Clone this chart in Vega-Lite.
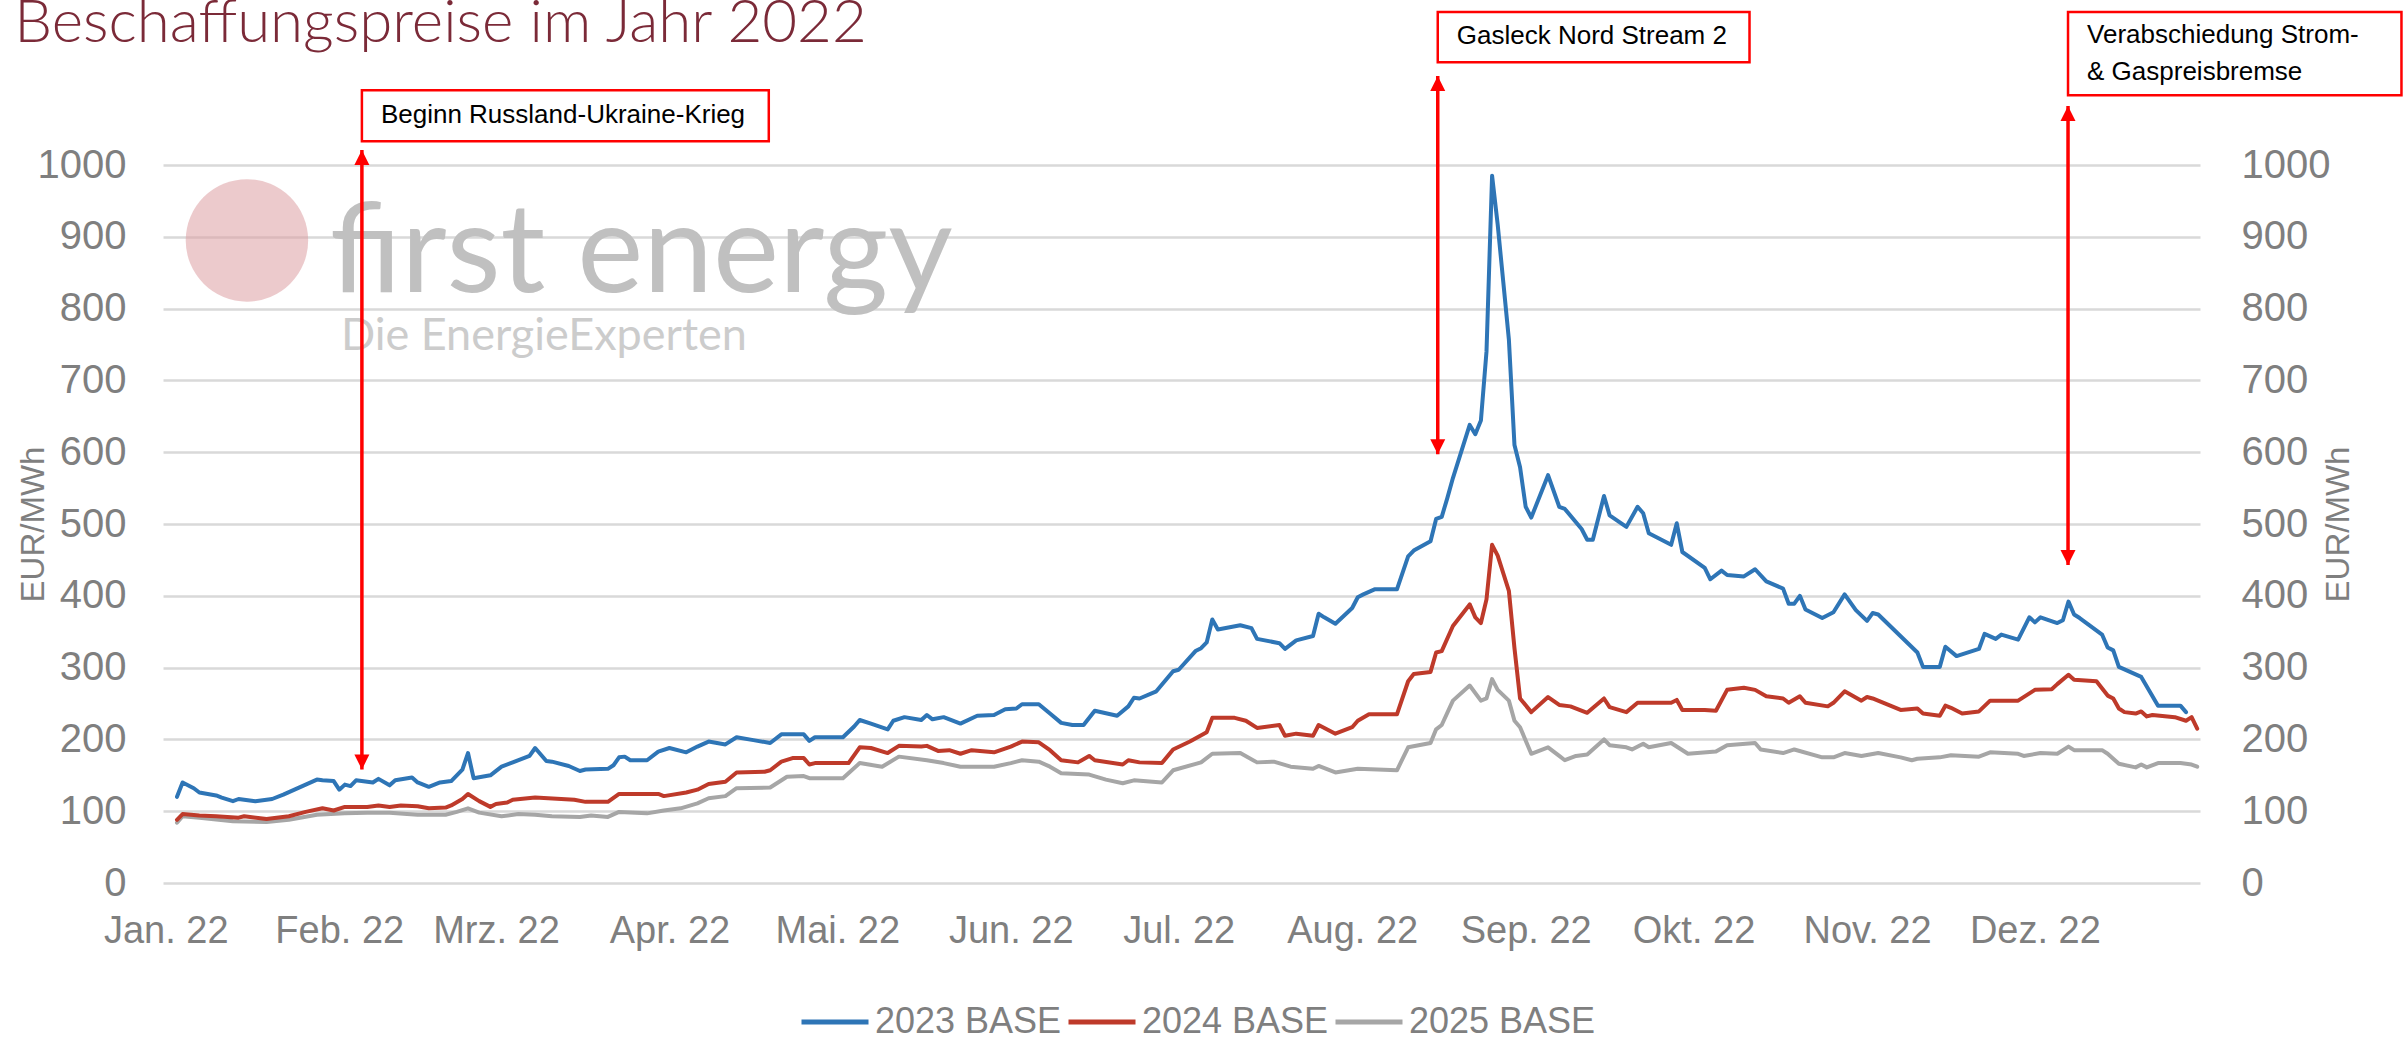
{
  "$schema": "https://vega.github.io/schema/vega-lite/v6.json",
  "width": 2037,
  "height": 718,
  "autosize": {"type": "none"},
  "padding": {"left": 163, "top": 165, "right": 207, "bottom": 156},
  "background": "white",
  "config": {
    "view": {"stroke": null},
    "font": "Liberation Sans",
    "locale": {
      "time": {
        "dateTime": "%A, %e. %B %Y, %X",
        "date": "%d.%m.%Y",
        "time": "%H:%M:%S",
        "periods": ["AM", "PM"],
        "days": ["Sonntag", "Montag", "Dienstag", "Mittwoch", "Donnerstag", "Freitag", "Samstag"],
        "shortDays": ["So", "Mo", "Di", "Mi", "Do", "Fr", "Sa"],
        "months": ["Januar", "Februar", "März", "April", "Mai", "Juni", "Juli", "August", "September", "Oktober", "November", "Dezember"],
        "shortMonths": ["Jan.", "Feb.", "Mrz.", "Apr.", "Mai.", "Jun.", "Jul.", "Aug.", "Sep.", "Okt.", "Nov.", "Dez."]
      }
    }
  },
  "datasets": {
    "prices": [
      {"date":"2022-01-03","series":"2025 BASE","price":84},{"date":"2022-01-04","series":"2025 BASE","price":93},{"date":"2022-01-07","series":"2025 BASE","price":91},{"date":"2022-01-13","series":"2025 BASE","price":86},{"date":"2022-01-19","series":"2025 BASE","price":85},{"date":"2022-01-23","series":"2025 BASE","price":88},{"date":"2022-01-28","series":"2025 BASE","price":95},{"date":"2022-02-02","series":"2025 BASE","price":97},{"date":"2022-02-06","series":"2025 BASE","price":98},{"date":"2022-02-10","series":"2025 BASE","price":98},{"date":"2022-02-15","series":"2025 BASE","price":95},{"date":"2022-02-20","series":"2025 BASE","price":95},{"date":"2022-02-22","series":"2025 BASE","price":99},{"date":"2022-02-24","series":"2025 BASE","price":104},{"date":"2022-02-26","series":"2025 BASE","price":98},{"date":"2022-03-02","series":"2025 BASE","price":93},{"date":"2022-03-05","series":"2025 BASE","price":96},{"date":"2022-03-08","series":"2025 BASE","price":95},{"date":"2022-03-11","series":"2025 BASE","price":93},{"date":"2022-03-16","series":"2025 BASE","price":92},{"date":"2022-03-18","series":"2025 BASE","price":94},{"date":"2022-03-21","series":"2025 BASE","price":92},{"date":"2022-03-23","series":"2025 BASE","price":99},{"date":"2022-03-28","series":"2025 BASE","price":97},{"date":"2022-03-31","series":"2025 BASE","price":101},{"date":"2022-04-03","series":"2025 BASE","price":104},{"date":"2022-04-06","series":"2025 BASE","price":111},{"date":"2022-04-08","series":"2025 BASE","price":118},{"date":"2022-04-11","series":"2025 BASE","price":121},{"date":"2022-04-13","series":"2025 BASE","price":132},{"date":"2022-04-19","series":"2025 BASE","price":133},{"date":"2022-04-22","series":"2025 BASE","price":148},{"date":"2022-04-25","series":"2025 BASE","price":149},{"date":"2022-04-26","series":"2025 BASE","price":146},{"date":"2022-05-02","series":"2025 BASE","price":146},{"date":"2022-05-05","series":"2025 BASE","price":167},{"date":"2022-05-09","series":"2025 BASE","price":162},{"date":"2022-05-12","series":"2025 BASE","price":176},{"date":"2022-05-17","series":"2025 BASE","price":171},{"date":"2022-05-20","series":"2025 BASE","price":167},{"date":"2022-05-23","series":"2025 BASE","price":162},{"date":"2022-05-29","series":"2025 BASE","price":162},{"date":"2022-06-01","series":"2025 BASE","price":167},{"date":"2022-06-03","series":"2025 BASE","price":171},{"date":"2022-06-06","series":"2025 BASE","price":169},{"date":"2022-06-08","series":"2025 BASE","price":162},{"date":"2022-06-10","series":"2025 BASE","price":153},{"date":"2022-06-15","series":"2025 BASE","price":151},{"date":"2022-06-18","series":"2025 BASE","price":144},{"date":"2022-06-21","series":"2025 BASE","price":139},{"date":"2022-06-23","series":"2025 BASE","price":143},{"date":"2022-06-28","series":"2025 BASE","price":140},{"date":"2022-06-30","series":"2025 BASE","price":157},{"date":"2022-07-05","series":"2025 BASE","price":168},{"date":"2022-07-07","series":"2025 BASE","price":180},{"date":"2022-07-12","series":"2025 BASE","price":181},{"date":"2022-07-15","series":"2025 BASE","price":168},{"date":"2022-07-18","series":"2025 BASE","price":169},{"date":"2022-07-21","series":"2025 BASE","price":162},{"date":"2022-07-25","series":"2025 BASE","price":159},{"date":"2022-07-26","series":"2025 BASE","price":163},{"date":"2022-07-29","series":"2025 BASE","price":154},{"date":"2022-08-02","series":"2025 BASE","price":159},{"date":"2022-08-09","series":"2025 BASE","price":157},{"date":"2022-08-11","series":"2025 BASE","price":189},{"date":"2022-08-15","series":"2025 BASE","price":195},{"date":"2022-08-16","series":"2025 BASE","price":214},{"date":"2022-08-17","series":"2025 BASE","price":220},{"date":"2022-08-19","series":"2025 BASE","price":254},{"date":"2022-08-22","series":"2025 BASE","price":275},{"date":"2022-08-24","series":"2025 BASE","price":254},{"date":"2022-08-25","series":"2025 BASE","price":257},{"date":"2022-08-26","series":"2025 BASE","price":284},{"date":"2022-08-27","series":"2025 BASE","price":269},{"date":"2022-08-29","series":"2025 BASE","price":254},{"date":"2022-08-30","series":"2025 BASE","price":226},{"date":"2022-08-31","series":"2025 BASE","price":217},{"date":"2022-09-02","series":"2025 BASE","price":180},{"date":"2022-09-05","series":"2025 BASE","price":189},{"date":"2022-09-07","series":"2025 BASE","price":177},{"date":"2022-09-08","series":"2025 BASE","price":171},{"date":"2022-09-10","series":"2025 BASE","price":177},{"date":"2022-09-12","series":"2025 BASE","price":179},{"date":"2022-09-15","series":"2025 BASE","price":200},{"date":"2022-09-16","series":"2025 BASE","price":192},{"date":"2022-09-19","series":"2025 BASE","price":189},{"date":"2022-09-20","series":"2025 BASE","price":186},{"date":"2022-09-22","series":"2025 BASE","price":194},{"date":"2022-09-23","series":"2025 BASE","price":189},{"date":"2022-09-27","series":"2025 BASE","price":195},{"date":"2022-09-30","series":"2025 BASE","price":180},{"date":"2022-10-05","series":"2025 BASE","price":183},{"date":"2022-10-07","series":"2025 BASE","price":192},{"date":"2022-10-12","series":"2025 BASE","price":195},{"date":"2022-10-13","series":"2025 BASE","price":186},{"date":"2022-10-17","series":"2025 BASE","price":181},{"date":"2022-10-19","series":"2025 BASE","price":186},{"date":"2022-10-24","series":"2025 BASE","price":175},{"date":"2022-10-26","series":"2025 BASE","price":175},{"date":"2022-10-28","series":"2025 BASE","price":181},{"date":"2022-10-31","series":"2025 BASE","price":177},{"date":"2022-11-03","series":"2025 BASE","price":181},{"date":"2022-11-07","series":"2025 BASE","price":175},{"date":"2022-11-09","series":"2025 BASE","price":171},{"date":"2022-11-10","series":"2025 BASE","price":173},{"date":"2022-11-14","series":"2025 BASE","price":175},{"date":"2022-11-16","series":"2025 BASE","price":178},{"date":"2022-11-21","series":"2025 BASE","price":176},{"date":"2022-11-23","series":"2025 BASE","price":182},{"date":"2022-11-28","series":"2025 BASE","price":180},{"date":"2022-11-29","series":"2025 BASE","price":177},{"date":"2022-12-02","series":"2025 BASE","price":181},{"date":"2022-12-05","series":"2025 BASE","price":180},{"date":"2022-12-07","series":"2025 BASE","price":190},{"date":"2022-12-08","series":"2025 BASE","price":185},{"date":"2022-12-13","series":"2025 BASE","price":185},{"date":"2022-12-14","series":"2025 BASE","price":180},{"date":"2022-12-16","series":"2025 BASE","price":166},{"date":"2022-12-19","series":"2025 BASE","price":161},{"date":"2022-12-20","series":"2025 BASE","price":165},{"date":"2022-12-21","series":"2025 BASE","price":161},{"date":"2022-12-23","series":"2025 BASE","price":167},{"date":"2022-12-27","series":"2025 BASE","price":167},{"date":"2022-12-29","series":"2025 BASE","price":165},{"date":"2022-12-30","series":"2025 BASE","price":162},
      {"date":"2022-01-03","series":"2024 BASE","price":88},{"date":"2022-01-04","series":"2024 BASE","price":96},{"date":"2022-01-07","series":"2024 BASE","price":94},{"date":"2022-01-10","series":"2024 BASE","price":93},{"date":"2022-01-14","series":"2024 BASE","price":91},{"date":"2022-01-15","series":"2024 BASE","price":93},{"date":"2022-01-19","series":"2024 BASE","price":89},{"date":"2022-01-23","series":"2024 BASE","price":93},{"date":"2022-01-26","series":"2024 BASE","price":99},{"date":"2022-01-29","series":"2024 BASE","price":104},{"date":"2022-01-31","series":"2024 BASE","price":101},{"date":"2022-02-02","series":"2024 BASE","price":106},{"date":"2022-02-06","series":"2024 BASE","price":106},{"date":"2022-02-08","series":"2024 BASE","price":108},{"date":"2022-02-10","series":"2024 BASE","price":106},{"date":"2022-02-12","series":"2024 BASE","price":108},{"date":"2022-02-15","series":"2024 BASE","price":107},{"date":"2022-02-17","series":"2024 BASE","price":104},{"date":"2022-02-20","series":"2024 BASE","price":105},{"date":"2022-02-21","series":"2024 BASE","price":108},{"date":"2022-02-23","series":"2024 BASE","price":117},{"date":"2022-02-24","series":"2024 BASE","price":124},{"date":"2022-02-26","series":"2024 BASE","price":114},{"date":"2022-02-28","series":"2024 BASE","price":106},{"date":"2022-03-01","series":"2024 BASE","price":110},{"date":"2022-03-03","series":"2024 BASE","price":112},{"date":"2022-03-04","series":"2024 BASE","price":116},{"date":"2022-03-08","series":"2024 BASE","price":119},{"date":"2022-03-15","series":"2024 BASE","price":116},{"date":"2022-03-17","series":"2024 BASE","price":113},{"date":"2022-03-21","series":"2024 BASE","price":113},{"date":"2022-03-23","series":"2024 BASE","price":124},{"date":"2022-03-30","series":"2024 BASE","price":124},{"date":"2022-03-31","series":"2024 BASE","price":121},{"date":"2022-04-04","series":"2024 BASE","price":126},{"date":"2022-04-06","series":"2024 BASE","price":130},{"date":"2022-04-08","series":"2024 BASE","price":138},{"date":"2022-04-11","series":"2024 BASE","price":141},{"date":"2022-04-13","series":"2024 BASE","price":154},{"date":"2022-04-18","series":"2024 BASE","price":155},{"date":"2022-04-19","series":"2024 BASE","price":157},{"date":"2022-04-21","series":"2024 BASE","price":169},{"date":"2022-04-23","series":"2024 BASE","price":174},{"date":"2022-04-25","series":"2024 BASE","price":174},{"date":"2022-04-26","series":"2024 BASE","price":165},{"date":"2022-04-27","series":"2024 BASE","price":167},{"date":"2022-05-03","series":"2024 BASE","price":167},{"date":"2022-05-05","series":"2024 BASE","price":189},{"date":"2022-05-07","series":"2024 BASE","price":188},{"date":"2022-05-10","series":"2024 BASE","price":181},{"date":"2022-05-12","series":"2024 BASE","price":191},{"date":"2022-05-16","series":"2024 BASE","price":190},{"date":"2022-05-17","series":"2024 BASE","price":191},{"date":"2022-05-19","series":"2024 BASE","price":184},{"date":"2022-05-21","series":"2024 BASE","price":185},{"date":"2022-05-23","series":"2024 BASE","price":180},{"date":"2022-05-25","series":"2024 BASE","price":185},{"date":"2022-05-29","series":"2024 BASE","price":182},{"date":"2022-06-01","series":"2024 BASE","price":190},{"date":"2022-06-03","series":"2024 BASE","price":197},{"date":"2022-06-06","series":"2024 BASE","price":196},{"date":"2022-06-08","series":"2024 BASE","price":185},{"date":"2022-06-10","series":"2024 BASE","price":171},{"date":"2022-06-13","series":"2024 BASE","price":168},{"date":"2022-06-15","series":"2024 BASE","price":177},{"date":"2022-06-16","series":"2024 BASE","price":171},{"date":"2022-06-21","series":"2024 BASE","price":165},{"date":"2022-06-22","series":"2024 BASE","price":171},{"date":"2022-06-24","series":"2024 BASE","price":168},{"date":"2022-06-28","series":"2024 BASE","price":167},{"date":"2022-06-30","series":"2024 BASE","price":186},{"date":"2022-07-03","series":"2024 BASE","price":197},{"date":"2022-07-06","series":"2024 BASE","price":210},{"date":"2022-07-07","series":"2024 BASE","price":230},{"date":"2022-07-11","series":"2024 BASE","price":230},{"date":"2022-07-13","series":"2024 BASE","price":226},{"date":"2022-07-15","series":"2024 BASE","price":216},{"date":"2022-07-19","series":"2024 BASE","price":220},{"date":"2022-07-20","series":"2024 BASE","price":205},{"date":"2022-07-22","series":"2024 BASE","price":208},{"date":"2022-07-25","series":"2024 BASE","price":205},{"date":"2022-07-26","series":"2024 BASE","price":220},{"date":"2022-07-29","series":"2024 BASE","price":208},{"date":"2022-08-01","series":"2024 BASE","price":217},{"date":"2022-08-02","series":"2024 BASE","price":226},{"date":"2022-08-04","series":"2024 BASE","price":235},{"date":"2022-08-09","series":"2024 BASE","price":235},{"date":"2022-08-11","series":"2024 BASE","price":281},{"date":"2022-08-12","series":"2024 BASE","price":291},{"date":"2022-08-15","series":"2024 BASE","price":294},{"date":"2022-08-16","series":"2024 BASE","price":321},{"date":"2022-08-17","series":"2024 BASE","price":323},{"date":"2022-08-19","series":"2024 BASE","price":358},{"date":"2022-08-22","series":"2024 BASE","price":388},{"date":"2022-08-23","series":"2024 BASE","price":370},{"date":"2022-08-24","series":"2024 BASE","price":362},{"date":"2022-08-25","series":"2024 BASE","price":395},{"date":"2022-08-26","series":"2024 BASE","price":471},{"date":"2022-08-27","series":"2024 BASE","price":456},{"date":"2022-08-29","series":"2024 BASE","price":407},{"date":"2022-08-30","series":"2024 BASE","price":327},{"date":"2022-08-31","series":"2024 BASE","price":257},{"date":"2022-09-02","series":"2024 BASE","price":238},{"date":"2022-09-05","series":"2024 BASE","price":259},{"date":"2022-09-07","series":"2024 BASE","price":248},{"date":"2022-09-09","series":"2024 BASE","price":246},{"date":"2022-09-12","series":"2024 BASE","price":237},{"date":"2022-09-15","series":"2024 BASE","price":257},{"date":"2022-09-16","series":"2024 BASE","price":245},{"date":"2022-09-19","series":"2024 BASE","price":238},{"date":"2022-09-21","series":"2024 BASE","price":251},{"date":"2022-09-27","series":"2024 BASE","price":251},{"date":"2022-09-28","series":"2024 BASE","price":255},{"date":"2022-09-29","series":"2024 BASE","price":241},{"date":"2022-10-03","series":"2024 BASE","price":241},{"date":"2022-10-05","series":"2024 BASE","price":240},{"date":"2022-10-07","series":"2024 BASE","price":269},{"date":"2022-10-10","series":"2024 BASE","price":272},{"date":"2022-10-12","series":"2024 BASE","price":269},{"date":"2022-10-14","series":"2024 BASE","price":260},{"date":"2022-10-17","series":"2024 BASE","price":257},{"date":"2022-10-18","series":"2024 BASE","price":251},{"date":"2022-10-20","series":"2024 BASE","price":260},{"date":"2022-10-21","series":"2024 BASE","price":251},{"date":"2022-10-25","series":"2024 BASE","price":246},{"date":"2022-10-26","series":"2024 BASE","price":251},{"date":"2022-10-28","series":"2024 BASE","price":267},{"date":"2022-10-31","series":"2024 BASE","price":254},{"date":"2022-11-01","series":"2024 BASE","price":259},{"date":"2022-11-02","series":"2024 BASE","price":257},{"date":"2022-11-07","series":"2024 BASE","price":241},{"date":"2022-11-10","series":"2024 BASE","price":243},{"date":"2022-11-11","series":"2024 BASE","price":236},{"date":"2022-11-14","series":"2024 BASE","price":233},{"date":"2022-11-15","series":"2024 BASE","price":247},{"date":"2022-11-16","series":"2024 BASE","price":244},{"date":"2022-11-18","series":"2024 BASE","price":236},{"date":"2022-11-21","series":"2024 BASE","price":239},{"date":"2022-11-23","series":"2024 BASE","price":254},{"date":"2022-11-28","series":"2024 BASE","price":254},{"date":"2022-12-01","series":"2024 BASE","price":269},{"date":"2022-12-04","series":"2024 BASE","price":270},{"date":"2022-12-05","series":"2024 BASE","price":277},{"date":"2022-12-07","series":"2024 BASE","price":290},{"date":"2022-12-08","series":"2024 BASE","price":283},{"date":"2022-12-12","series":"2024 BASE","price":281},{"date":"2022-12-14","series":"2024 BASE","price":261},{"date":"2022-12-15","series":"2024 BASE","price":257},{"date":"2022-12-16","series":"2024 BASE","price":243},{"date":"2022-12-17","series":"2024 BASE","price":238},{"date":"2022-12-19","series":"2024 BASE","price":236},{"date":"2022-12-20","series":"2024 BASE","price":239},{"date":"2022-12-21","series":"2024 BASE","price":232},{"date":"2022-12-22","series":"2024 BASE","price":234},{"date":"2022-12-26","series":"2024 BASE","price":231},{"date":"2022-12-28","series":"2024 BASE","price":226},{"date":"2022-12-29","series":"2024 BASE","price":231},{"date":"2022-12-30","series":"2024 BASE","price":215},
      {"date":"2022-01-03","series":"2023 BASE","price":120},{"date":"2022-01-04","series":"2023 BASE","price":140},{"date":"2022-01-06","series":"2023 BASE","price":132},{"date":"2022-01-07","series":"2023 BASE","price":126},{"date":"2022-01-10","series":"2023 BASE","price":122},{"date":"2022-01-11","series":"2023 BASE","price":119},{"date":"2022-01-13","series":"2023 BASE","price":114},{"date":"2022-01-14","series":"2023 BASE","price":117},{"date":"2022-01-17","series":"2023 BASE","price":114},{"date":"2022-01-20","series":"2023 BASE","price":117},{"date":"2022-01-22","series":"2023 BASE","price":123},{"date":"2022-01-24","series":"2023 BASE","price":130},{"date":"2022-01-26","series":"2023 BASE","price":137},{"date":"2022-01-28","series":"2023 BASE","price":144},{"date":"2022-01-29","series":"2023 BASE","price":143},{"date":"2022-01-31","series":"2023 BASE","price":142},{"date":"2022-02-01","series":"2023 BASE","price":130},{"date":"2022-02-02","series":"2023 BASE","price":137},{"date":"2022-02-03","series":"2023 BASE","price":135},{"date":"2022-02-04","series":"2023 BASE","price":143},{"date":"2022-02-07","series":"2023 BASE","price":140},{"date":"2022-02-08","series":"2023 BASE","price":145},{"date":"2022-02-10","series":"2023 BASE","price":136},{"date":"2022-02-11","series":"2023 BASE","price":143},{"date":"2022-02-14","series":"2023 BASE","price":147},{"date":"2022-02-15","series":"2023 BASE","price":140},{"date":"2022-02-17","series":"2023 BASE","price":134},{"date":"2022-02-19","series":"2023 BASE","price":140},{"date":"2022-02-21","series":"2023 BASE","price":142},{"date":"2022-02-23","series":"2023 BASE","price":158},{"date":"2022-02-24","series":"2023 BASE","price":181},{"date":"2022-02-25","series":"2023 BASE","price":146},{"date":"2022-02-28","series":"2023 BASE","price":150},{"date":"2022-03-02","series":"2023 BASE","price":162},{"date":"2022-03-04","series":"2023 BASE","price":168},{"date":"2022-03-07","series":"2023 BASE","price":177},{"date":"2022-03-08","series":"2023 BASE","price":188},{"date":"2022-03-10","series":"2023 BASE","price":170},{"date":"2022-03-11","series":"2023 BASE","price":169},{"date":"2022-03-14","series":"2023 BASE","price":163},{"date":"2022-03-16","series":"2023 BASE","price":156},{"date":"2022-03-17","series":"2023 BASE","price":158},{"date":"2022-03-21","series":"2023 BASE","price":159},{"date":"2022-03-22","series":"2023 BASE","price":164},{"date":"2022-03-23","series":"2023 BASE","price":175},{"date":"2022-03-24","series":"2023 BASE","price":176},{"date":"2022-03-25","series":"2023 BASE","price":171},{"date":"2022-03-28","series":"2023 BASE","price":171},{"date":"2022-03-30","series":"2023 BASE","price":183},{"date":"2022-04-01","series":"2023 BASE","price":188},{"date":"2022-04-04","series":"2023 BASE","price":182},{"date":"2022-04-06","series":"2023 BASE","price":190},{"date":"2022-04-08","series":"2023 BASE","price":197},{"date":"2022-04-11","series":"2023 BASE","price":193},{"date":"2022-04-13","series":"2023 BASE","price":203},{"date":"2022-04-16","series":"2023 BASE","price":199},{"date":"2022-04-19","series":"2023 BASE","price":195},{"date":"2022-04-21","series":"2023 BASE","price":207},{"date":"2022-04-25","series":"2023 BASE","price":207},{"date":"2022-04-26","series":"2023 BASE","price":198},{"date":"2022-04-27","series":"2023 BASE","price":203},{"date":"2022-05-02","series":"2023 BASE","price":203},{"date":"2022-05-04","series":"2023 BASE","price":218},{"date":"2022-05-05","series":"2023 BASE","price":227},{"date":"2022-05-07","series":"2023 BASE","price":222},{"date":"2022-05-10","series":"2023 BASE","price":214},{"date":"2022-05-11","series":"2023 BASE","price":226},{"date":"2022-05-13","series":"2023 BASE","price":231},{"date":"2022-05-16","series":"2023 BASE","price":227},{"date":"2022-05-17","series":"2023 BASE","price":234},{"date":"2022-05-18","series":"2023 BASE","price":228},{"date":"2022-05-20","series":"2023 BASE","price":231},{"date":"2022-05-23","series":"2023 BASE","price":222},{"date":"2022-05-26","series":"2023 BASE","price":233},{"date":"2022-05-29","series":"2023 BASE","price":234},{"date":"2022-05-31","series":"2023 BASE","price":242},{"date":"2022-06-02","series":"2023 BASE","price":243},{"date":"2022-06-03","series":"2023 BASE","price":249},{"date":"2022-06-06","series":"2023 BASE","price":249},{"date":"2022-06-08","series":"2023 BASE","price":236},{"date":"2022-06-10","series":"2023 BASE","price":223},{"date":"2022-06-12","series":"2023 BASE","price":220},{"date":"2022-06-14","series":"2023 BASE","price":220},{"date":"2022-06-16","series":"2023 BASE","price":240},{"date":"2022-06-20","series":"2023 BASE","price":233},{"date":"2022-06-22","series":"2023 BASE","price":246},{"date":"2022-06-23","series":"2023 BASE","price":258},{"date":"2022-06-24","series":"2023 BASE","price":257},{"date":"2022-06-27","series":"2023 BASE","price":267},{"date":"2022-06-30","series":"2023 BASE","price":295},{"date":"2022-07-01","series":"2023 BASE","price":297},{"date":"2022-07-04","series":"2023 BASE","price":323},{"date":"2022-07-05","series":"2023 BASE","price":327},{"date":"2022-07-06","series":"2023 BASE","price":335},{"date":"2022-07-07","series":"2023 BASE","price":367},{"date":"2022-07-08","series":"2023 BASE","price":353},{"date":"2022-07-12","series":"2023 BASE","price":359},{"date":"2022-07-14","series":"2023 BASE","price":355},{"date":"2022-07-15","series":"2023 BASE","price":340},{"date":"2022-07-19","series":"2023 BASE","price":334},{"date":"2022-07-20","series":"2023 BASE","price":326},{"date":"2022-07-22","series":"2023 BASE","price":338},{"date":"2022-07-25","series":"2023 BASE","price":344},{"date":"2022-07-26","series":"2023 BASE","price":375},{"date":"2022-07-27","series":"2023 BASE","price":370},{"date":"2022-07-29","series":"2023 BASE","price":361},{"date":"2022-08-01","series":"2023 BASE","price":383},{"date":"2022-08-02","series":"2023 BASE","price":398},{"date":"2022-08-03","series":"2023 BASE","price":402},{"date":"2022-08-05","series":"2023 BASE","price":409},{"date":"2022-08-09","series":"2023 BASE","price":409},{"date":"2022-08-11","series":"2023 BASE","price":455},{"date":"2022-08-12","series":"2023 BASE","price":463},{"date":"2022-08-15","series":"2023 BASE","price":476},{"date":"2022-08-16","series":"2023 BASE","price":507},{"date":"2022-08-17","series":"2023 BASE","price":510},{"date":"2022-08-18","series":"2023 BASE","price":536},{"date":"2022-08-19","series":"2023 BASE","price":564},{"date":"2022-08-22","series":"2023 BASE","price":638},{"date":"2022-08-23","series":"2023 BASE","price":625},{"date":"2022-08-24","series":"2023 BASE","price":644},{"date":"2022-08-25","series":"2023 BASE","price":740},{"date":"2022-08-26","series":"2023 BASE","price":985},{"date":"2022-08-27","series":"2023 BASE","price":917},{"date":"2022-08-28","series":"2023 BASE","price":837},{"date":"2022-08-29","series":"2023 BASE","price":757},{"date":"2022-08-30","series":"2023 BASE","price":610},{"date":"2022-08-31","series":"2023 BASE","price":579},{"date":"2022-09-01","series":"2023 BASE","price":524},{"date":"2022-09-02","series":"2023 BASE","price":509},{"date":"2022-09-05","series":"2023 BASE","price":568},{"date":"2022-09-07","series":"2023 BASE","price":524},{"date":"2022-09-08","series":"2023 BASE","price":521},{"date":"2022-09-11","series":"2023 BASE","price":493},{"date":"2022-09-12","series":"2023 BASE","price":478},{"date":"2022-09-13","series":"2023 BASE","price":478},{"date":"2022-09-15","series":"2023 BASE","price":539},{"date":"2022-09-16","series":"2023 BASE","price":512},{"date":"2022-09-19","series":"2023 BASE","price":496},{"date":"2022-09-21","series":"2023 BASE","price":524},{"date":"2022-09-22","series":"2023 BASE","price":515},{"date":"2022-09-23","series":"2023 BASE","price":487},{"date":"2022-09-27","series":"2023 BASE","price":471},{"date":"2022-09-28","series":"2023 BASE","price":501},{"date":"2022-09-29","series":"2023 BASE","price":461},{"date":"2022-10-03","series":"2023 BASE","price":439},{"date":"2022-10-04","series":"2023 BASE","price":423},{"date":"2022-10-06","series":"2023 BASE","price":435},{"date":"2022-10-07","series":"2023 BASE","price":429},{"date":"2022-10-10","series":"2023 BASE","price":427},{"date":"2022-10-12","series":"2023 BASE","price":437},{"date":"2022-10-14","series":"2023 BASE","price":420},{"date":"2022-10-17","series":"2023 BASE","price":410},{"date":"2022-10-18","series":"2023 BASE","price":389},{"date":"2022-10-19","series":"2023 BASE","price":389},{"date":"2022-10-20","series":"2023 BASE","price":400},{"date":"2022-10-21","series":"2023 BASE","price":381},{"date":"2022-10-24","series":"2023 BASE","price":369},{"date":"2022-10-26","series":"2023 BASE","price":377},{"date":"2022-10-28","series":"2023 BASE","price":402},{"date":"2022-10-30","series":"2023 BASE","price":380},{"date":"2022-11-01","series":"2023 BASE","price":365},{"date":"2022-11-02","series":"2023 BASE","price":376},{"date":"2022-11-03","series":"2023 BASE","price":374},{"date":"2022-11-10","series":"2023 BASE","price":321},{"date":"2022-11-11","series":"2023 BASE","price":301},{"date":"2022-11-14","series":"2023 BASE","price":301},{"date":"2022-11-15","series":"2023 BASE","price":329},{"date":"2022-11-17","series":"2023 BASE","price":316},{"date":"2022-11-21","series":"2023 BASE","price":326},{"date":"2022-11-22","series":"2023 BASE","price":347},{"date":"2022-11-24","series":"2023 BASE","price":340},{"date":"2022-11-25","series":"2023 BASE","price":346},{"date":"2022-11-28","series":"2023 BASE","price":339},{"date":"2022-11-30","series":"2023 BASE","price":370},{"date":"2022-12-01","series":"2023 BASE","price":363},{"date":"2022-12-02","series":"2023 BASE","price":370},{"date":"2022-12-05","series":"2023 BASE","price":362},{"date":"2022-12-06","series":"2023 BASE","price":366},{"date":"2022-12-07","series":"2023 BASE","price":392},{"date":"2022-12-08","series":"2023 BASE","price":374},{"date":"2022-12-09","series":"2023 BASE","price":369},{"date":"2022-12-13","series":"2023 BASE","price":346},{"date":"2022-12-14","series":"2023 BASE","price":328},{"date":"2022-12-15","series":"2023 BASE","price":324},{"date":"2022-12-16","series":"2023 BASE","price":301},{"date":"2022-12-20","series":"2023 BASE","price":287},{"date":"2022-12-23","series":"2023 BASE","price":247},{"date":"2022-12-27","series":"2023 BASE","price":247},{"date":"2022-12-28","series":"2023 BASE","price":238}
    ],
    "events": [
      {"label":"Beginn Russland-Ukraine-Krieg","date":"2022-02-05T01:00:00Z","arrowTop":1021,"arrowBottom":158,"boxEnd":"2022-04-18T18:00:00Z","boxTop":1104,"boxBottom":1033,"labelY":1069},
      {"label":"Gasleck Nord Stream 2","date":"2022-08-16T07:00:00Z","arrowTop":1124,"arrowBottom":597,"boxEnd":"2022-10-11T00:00:00Z","boxTop":1213,"boxBottom":1143,"labelY":1179},
      {"label":"Verabschiedung Strom-\n& Gaspreisbremse","date":"2022-12-06T22:00:00Z","arrowTop":1082,"arrowBottom":443,"boxEnd":"2023-02-04T12:00:00Z","boxTop":1213,"boxBottom":1097,"labelY":1181}
    ]
  },
  "resolve": {"axis": {"x": "independent", "y": "independent"}},
  "layer": [
    {
      "data": {"values": [{}]},
      "mark": {"type": "point", "filled": true, "size": 15000, "color": "#dc9ea3", "opacity": 0.55, "strokeWidth": 0, "clip": false},
      "encoding": {
        "x": {"datum": {"year": 2022, "month": 1, "date": 15, "hours": 12, "utc": true}, "type": "temporal", "scale": {"type": "utc", "domain": [{"year": 2021, "month": 12, "date": 31, "hours": 12, "utc": true}, {"year": 2022, "month": 12, "date": 30, "hours": 12, "utc": true}]}, "axis": null},
        "y": {"datum": 895, "type": "quantitative", "scale": {"domain": [0, 1000], "nice": false}, "axis": null}
      }
    },
    {
      "data": {"values": [{}]},
      "mark": {"type": "text", "text": "first energy", "font": "Lato", "fontSize": 125, "color": "#c0c0c0", "align": "left", "baseline": "alphabetic", "clip": false},
      "encoding": {
        "x": {"datum": {"year": 2022, "month": 1, "date": 30, "hours": 7, "utc": true}, "type": "temporal", "scale": {"type": "utc", "domain": [{"year": 2021, "month": 12, "date": 31, "hours": 12, "utc": true}, {"year": 2022, "month": 12, "date": 30, "hours": 12, "utc": true}]}, "axis": null},
        "y": {"datum": 823, "type": "quantitative", "scale": {"domain": [0, 1000], "nice": false}, "axis": null}
      }
    },
    {
      "data": {"values": [{}]},
      "mark": {"type": "text", "text": "Die EnergieExperten", "font": "Lato", "fontSize": 45, "color": "#cccccc", "align": "left", "baseline": "alphabetic", "clip": false},
      "encoding": {
        "x": {"datum": {"year": 2022, "month": 2, "date": 1, "hours": 7, "utc": true}, "type": "temporal", "scale": {"type": "utc", "domain": [{"year": 2021, "month": 12, "date": 31, "hours": 12, "utc": true}, {"year": 2022, "month": 12, "date": 30, "hours": 12, "utc": true}]}, "axis": null},
        "y": {"datum": 742, "type": "quantitative", "scale": {"domain": [0, 1000], "nice": false}, "axis": null}
      }
    },
    {
      "data": {"name": "prices"},
      "mark": {"type": "line", "strokeWidth": 4, "strokeJoin": "round", "strokeCap": "round", "clip": false},
      "encoding": {
        "x": {
          "field": "date", "type": "temporal",
          "scale": {"type": "utc", "domain": [{"year": 2021, "month": 12, "date": 31, "hours": 12, "utc": true}, {"year": 2022, "month": 12, "date": 30, "hours": 12, "utc": true}]},
          "axis": {
            "values": [1640995200000, 1643673600000, 1646092800000, 1648771200000, 1651363200000, 1654041600000, 1656633600000, 1659312000000, 1661990400000, 1664582400000, 1667260800000, 1669852800000],
            "format": "%b %y",
            "title": null, "grid": false, "domain": false, "ticks": false,
            "labelFont": "Liberation Sans", "labelFontSize": 38, "labelColor": "#7f7f7f", "labelPadding": 29, "labelOverlap": false, "labelFlush": false
          }
        },
        "y": {
          "field": "price", "type": "quantitative",
          "scale": {"domain": [0, 1000], "nice": false},
          "axis": {
            "orient": "left", "values": [0, 100, 200, 300, 400, 500, 600, 700, 800, 900, 1000], "format": "d",
            "grid": true, "gridColor": "#d9d9d9", "gridWidth": 2.5, "domain": false, "ticks": false,
            "labelFont": "Liberation Sans", "labelFontSize": 40, "labelColor": "#7f7f7f", "labelPadding": 37, "labelOverlap": false,
            "title": "EUR/MWh", "titleFont": "Liberation Sans", "titleFontSize": 33, "titleFontWeight": "normal", "titleColor": "#7f7f7f", "titlePadding": -13
          }
        },
        "color": {
          "field": "series", "type": "nominal",
          "scale": {"domain": ["2023 BASE", "2024 BASE", "2025 BASE"], "range": ["#2e75b6", "#be3a2a", "#a6a6a6"]},
          "legend": {
            "title": null, "orient": "none", "legendX": 636, "legendY": 821, "direction": "horizontal", "columns": 3,
            "symbolType": "stroke", "symbolSize": 4489, "symbolStrokeWidth": 5,
            "labelFont": "Liberation Sans", "labelFontSize": 36, "labelColor": "#7f7f7f", "labelOffset": 4, "labelLimit": 400,
            "columnPadding": -4, "padding": 0
          }
        }
      }
    },
    {
      "data": {"values": [{}]},
      "mark": {"type": "rule", "opacity": 0},
      "encoding": {
        "y": {
          "datum": 0, "type": "quantitative",
          "scale": {"domain": [0, 1000], "nice": false},
          "axis": {
            "orient": "right", "values": [0, 100, 200, 300, 400, 500, 600, 700, 800, 900, 1000], "format": "d",
            "grid": false, "domain": false, "ticks": false,
            "labelFont": "Liberation Sans", "labelFontSize": 40, "labelColor": "#7f7f7f", "labelPadding": 41, "labelOverlap": false,
            "title": "EUR/MWh", "titleFont": "Liberation Sans", "titleFontSize": 33, "titleFontWeight": "normal", "titleColor": "#7f7f7f", "titleAngle": -90, "titlePadding": 26
          }
        }
      }
    },
    {
      "data": {"name": "events"},
      "mark": {"type": "rule", "color": "#ff0000", "strokeWidth": 3.5, "clip": false},
      "encoding": {
        "x": {"field": "date", "type": "temporal", "scale": {"type": "utc", "domain": [{"year": 2021, "month": 12, "date": 31, "hours": 12, "utc": true}, {"year": 2022, "month": 12, "date": 30, "hours": 12, "utc": true}]}, "axis": null},
        "y": {"field": "arrowTop", "type": "quantitative", "scale": {"domain": [0, 1000], "nice": false}, "axis": null},
        "y2": {"field": "arrowBottom"}
      }
    },
    {
      "data": {"name": "events"},
      "mark": {"type": "point", "shape": "M0,0L-0.5,1L0.5,1Z", "size": 900, "filled": true, "color": "#ff0000", "opacity": 1, "strokeWidth": 0, "clip": false},
      "encoding": {
        "x": {"field": "date", "type": "temporal", "scale": {"type": "utc", "domain": [{"year": 2021, "month": 12, "date": 31, "hours": 12, "utc": true}, {"year": 2022, "month": 12, "date": 30, "hours": 12, "utc": true}]}, "axis": null},
        "y": {"field": "arrowTop", "type": "quantitative", "scale": {"domain": [0, 1000], "nice": false}, "axis": null}
      }
    },
    {
      "data": {"name": "events"},
      "mark": {"type": "point", "shape": "M0,0L-0.5,-1L0.5,-1Z", "size": 900, "filled": true, "color": "#ff0000", "opacity": 1, "strokeWidth": 0, "clip": false},
      "encoding": {
        "x": {"field": "date", "type": "temporal", "scale": {"type": "utc", "domain": [{"year": 2021, "month": 12, "date": 31, "hours": 12, "utc": true}, {"year": 2022, "month": 12, "date": 30, "hours": 12, "utc": true}]}, "axis": null},
        "y": {"field": "arrowBottom", "type": "quantitative", "scale": {"domain": [0, 1000], "nice": false}, "axis": null}
      }
    },
    {
      "data": {"name": "events"},
      "mark": {"type": "rect", "fill": "#ffffff", "stroke": "#ff0000", "strokeWidth": 2.5, "clip": false},
      "encoding": {
        "x": {"field": "date", "type": "temporal", "scale": {"type": "utc", "domain": [{"year": 2021, "month": 12, "date": 31, "hours": 12, "utc": true}, {"year": 2022, "month": 12, "date": 30, "hours": 12, "utc": true}]}, "axis": null},
        "x2": {"field": "boxEnd"},
        "y": {"field": "boxTop", "type": "quantitative", "scale": {"domain": [0, 1000], "nice": false}, "axis": null},
        "y2": {"field": "boxBottom"}
      }
    },
    {
      "data": {"name": "events"},
      "mark": {"type": "text", "font": "Liberation Sans", "fontSize": 26, "color": "#000000", "align": "left", "baseline": "middle", "dx": 19, "lineBreak": "\n", "lineHeight": 36.7, "clip": false},
      "encoding": {
        "x": {"field": "date", "type": "temporal", "scale": {"type": "utc", "domain": [{"year": 2021, "month": 12, "date": 31, "hours": 12, "utc": true}, {"year": 2022, "month": 12, "date": 30, "hours": 12, "utc": true}]}, "axis": null},
        "y": {"field": "labelY", "type": "quantitative", "scale": {"domain": [0, 1000], "nice": false}, "axis": null},
        "text": {"field": "label", "type": "nominal"}
      }
    },
    {
      "data": {"values": [{}]},
      "mark": {"type": "text", "text": "Beschaffungspreise im Jahr 2022", "font": "Lato", "fontWeight": 300, "fontSize": 60, "color": "#7b2a38", "align": "left", "baseline": "alphabetic", "clip": false},
      "encoding": {
        "x": {"datum": {"year": 2021, "month": 12, "date": 4, "hours": 22, "utc": true}, "type": "temporal", "scale": {"type": "utc", "domain": [{"year": 2021, "month": 12, "date": 31, "hours": 12, "utc": true}, {"year": 2022, "month": 12, "date": 30, "hours": 12, "utc": true}]}, "axis": null},
        "y": {"datum": 1171, "type": "quantitative", "scale": {"domain": [0, 1000], "nice": false}, "axis": null}
      }
    }
  ]
}
